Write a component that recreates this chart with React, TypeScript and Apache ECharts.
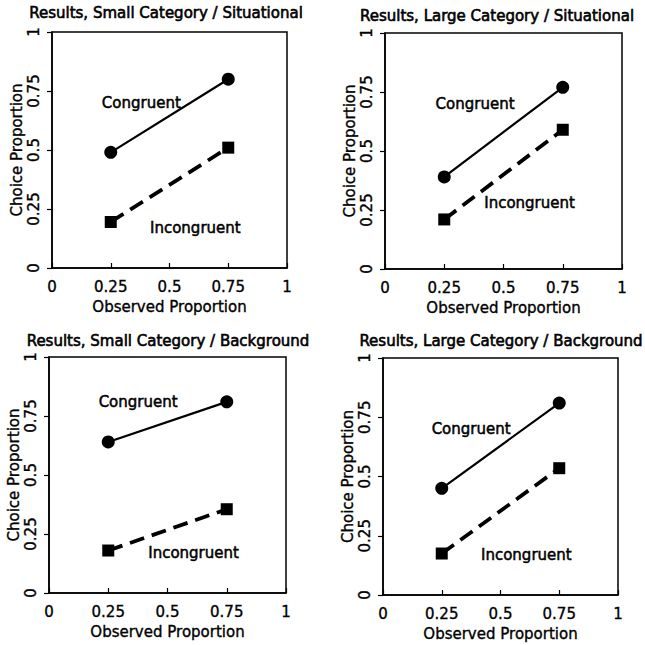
import React, { useEffect, useRef } from "react";
import * as echarts from "echarts";

const panelTitles = [
  "Results, Small Category / Situational",
  "Results, Large Category / Situational",
  "Results, Small Category / Background",
  "Results, Large Category / Background",
];
const observed = [0.25, 0.75];
const congruent = [
  [0.49, 0.8],
  [0.39, 0.77],
  [0.64, 0.81],
  [0.45, 0.81],
];
const incongruent = [
  [0.195, 0.51],
  [0.21, 0.59],
  [0.18, 0.355],
  [0.175, 0.535],
];
const congruentLabelAt = [
  [0.38, 0.7],
  [0.38, 0.7],
  [0.376, 0.81],
  [0.375, 0.7],
];
const incongruentLabelAt = [
  [0.61, 0.17],
  [0.61, 0.28],
  [0.61, 0.17],
  [0.61, 0.17],
];
const xAxisName = "Observed Proportion";
const yAxisName = "Choice Proportion";

const grids = [
  { left: 52, top: 32, width: 235, height: 236 },
  { left: 385, top: 33, width: 237, height: 236 },
  { left: 49, top: 357, width: 237, height: 236 },
  { left: 383, top: 358, width: 235, height: 237 },
];
const titlePos = [
  { x: 166, y: 5 },
  { x: 497, y: 8 },
  { x: 168, y: 333 },
  { x: 501, y: 333 },
];

const FONT = "'DejaVu Sans', sans-serif";
const heavy = { textBorderColor: "#000", textBorderWidth: 0.35 };

export default function App() {
  const ref = useRef<HTMLDivElement>(null);
  useEffect(() => {
    if (!ref.current) return;
    const chart = echarts.init(ref.current, undefined, { renderer: "svg" });
    const xAxes: any[] = [];
    const yAxes: any[] = [];
    const series: any[] = [];
    grids.forEach((g, i) => {
      xAxes.push({
        type: "value",
        gridIndex: i,
        min: 0,
        max: 1,
        interval: 0.25,
        name: xAxisName,
        nameLocation: "middle",
        nameGap: 31,
        nameTextStyle: { color: "#000", fontSize: 15, fontFamily: FONT, ...heavy },
        axisLine: { lineStyle: { color: "#000", width: 1.5 } },
        axisTick: { inside: true, length: 5, lineStyle: { color: "#000", width: 1.2 } },
        axisLabel: { color: "#000", fontSize: 15, fontFamily: FONT, margin: 11, ...heavy },
        splitLine: { show: false },
      });
      yAxes.push({
        type: "value",
        gridIndex: i,
        min: 0,
        max: 1,
        interval: 0.25,
        name: yAxisName,
        nameLocation: "middle",
        nameGap: 27,
        nameTextStyle: { color: "#000", fontSize: 15, fontFamily: FONT, ...heavy },
        axisLine: { lineStyle: { color: "#000", width: 1.5 } },
        axisTick: { inside: false, length: 5, lineStyle: { color: "#000", width: 1.2 } },
        axisLabel: { color: "#000", fontSize: 15, fontFamily: FONT, rotate: 90, margin: 11, ...heavy },
        splitLine: { show: false },
      });
      series.push({
        type: "line",
        xAxisIndex: i,
        yAxisIndex: i,
        data: observed.map((x, k) => [x, congruent[i][k]]),
        symbol: "circle",
        symbolSize: 13,
        itemStyle: { color: "#000" },
        lineStyle: { color: "#000", width: 2.2 },
      });
      series.push({
        type: "line",
        xAxisIndex: i,
        yAxisIndex: i,
        data: observed.map((x, k) => [x, incongruent[i][k]]),
        symbol: "rect",
        symbolSize: 12,
        itemStyle: { color: "#000" },
        lineStyle: { color: "#000", width: 3.8, type: [15, 8] },
      });
      series.push({
        type: "scatter",
        xAxisIndex: i,
        yAxisIndex: i,
        symbolSize: 0,
        itemStyle: { color: "#000", opacity: 1 },
        data: [
          { name: "Congruent", value: congruentLabelAt[i] },
          { name: "Incongruent", value: incongruentLabelAt[i] },
        ],
        label: {
          show: true,
          position: "inside",
          formatter: "{b}",
          color: "#000",
          opacity: 1,
          fontSize: 15,
          fontFamily: FONT,
          textBorderColor: "#000",
          textBorderWidth: 0.5,
        },
      });
    });
    chart.setOption({
      animation: false,
      backgroundColor: "#fff",
      title: panelTitles.map((t, i) => ({
        text: t,
        left: titlePos[i].x,
        top: titlePos[i].y,
        textAlign: "center",
        padding: 0,
        textStyle: {
          color: "#000",
          fontSize: 15,
          fontWeight: "normal",
          fontFamily: FONT,
          textBorderColor: "#000",
          textBorderWidth: 0.6,
        },
      })),
      grid: grids.map((g) => ({
        ...g,
        show: true,
        borderColor: "#000",
        borderWidth: 1.5,
        backgroundColor: "transparent",
      })),
      xAxis: xAxes,
      yAxis: yAxes,
      series,
    });
    return () => chart.dispose();
  }, []);
  return (
    <div
      ref={ref}
      style={{ position: "fixed", left: 0, top: 0, width: 645, height: 645 }}
    />
  );
}
